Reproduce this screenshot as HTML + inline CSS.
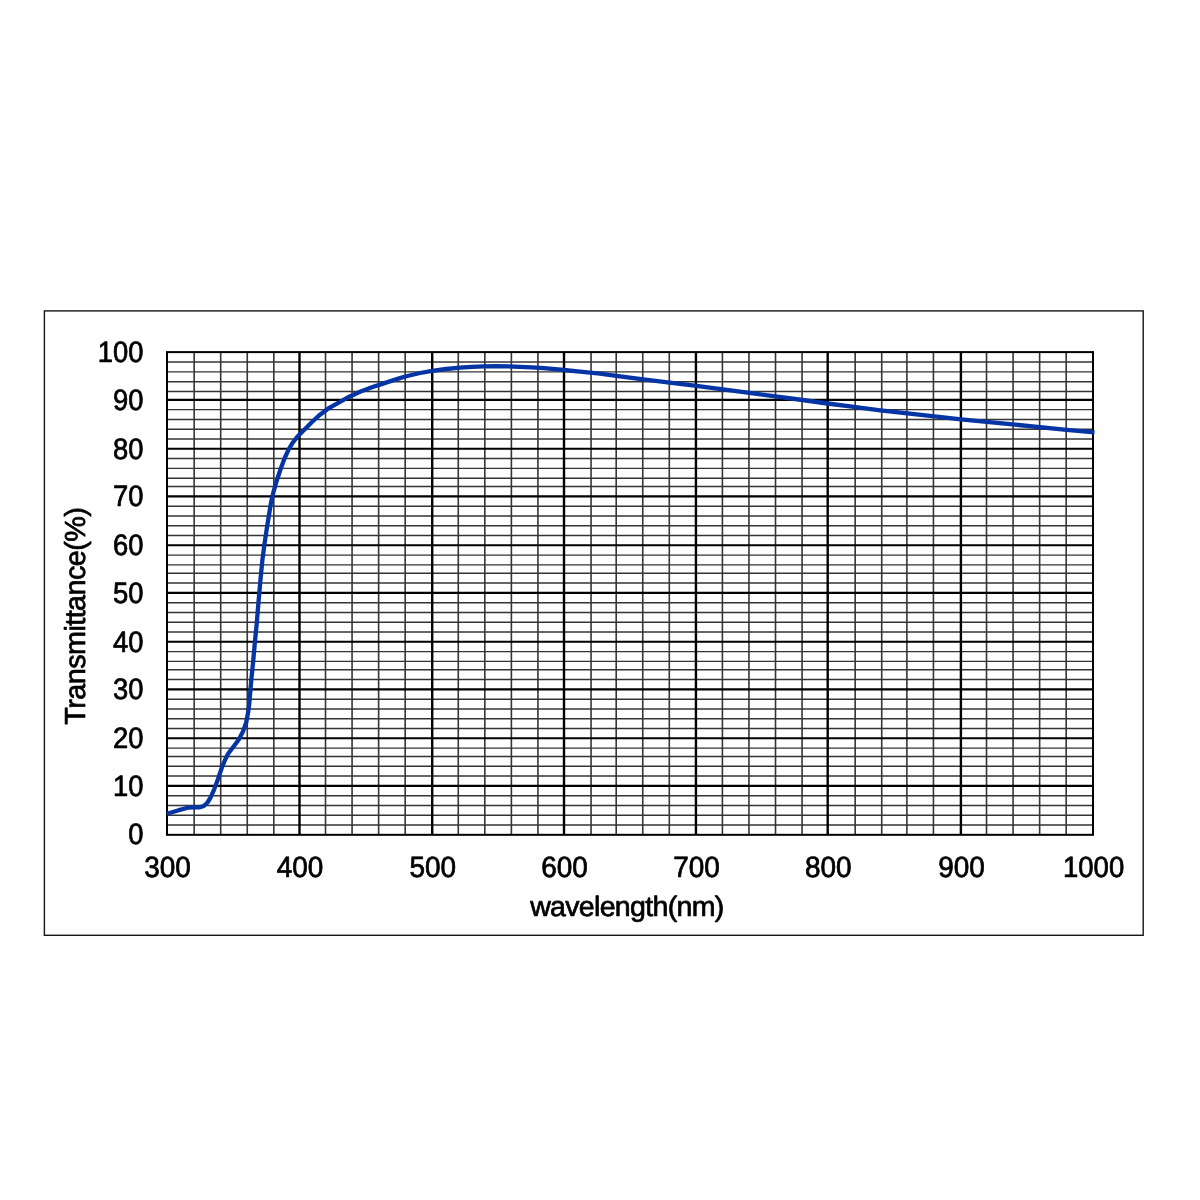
<!DOCTYPE html>
<html><head><meta charset="utf-8"><title>Transmittance</title>
<style>html,body{margin:0;padding:0;background:#fff;}body{width:1200px;height:1200px;overflow:hidden;}svg{display:block;}text{font-family:"Liberation Sans",sans-serif;fill:#000;}</style></head><body>
<svg width="1200" height="1200" viewBox="0 0 1200 1200">
<rect x="0" y="0" width="1200" height="1200" fill="#ffffff"/>
<rect x="44.4" y="310.9" width="1098.8" height="624.4" fill="#fefefe" stroke="#161616" stroke-width="1.4"/>
<path d="M194.15,352.30V834.82M220.70,352.30V834.82M247.26,352.30V834.82M273.81,352.30V834.82M325.52,352.30V834.82M352.07,352.30V834.82M378.62,352.30V834.82M405.17,352.30V834.82M458.28,352.30V834.82M484.83,352.30V834.82M511.38,352.30V834.82M537.94,352.30V834.82M591.04,352.30V834.82M616.20,352.30V834.82M642.75,352.30V834.82M669.30,352.30V834.82M722.41,352.30V834.82M748.96,352.30V834.82M775.51,352.30V834.82M802.07,352.30V834.82M855.17,352.30V834.82M881.72,352.30V834.82M906.88,352.30V834.82M933.43,352.30V834.82M986.53,352.30V834.82M1013.09,352.30V834.82M1039.64,352.30V834.82M1066.19,352.30V834.82" stroke="#363636" stroke-width="1.6" fill="none"/>
<path d="M167.00,362.09H1093.00M167.00,371.88H1093.00M167.00,381.67H1093.00M167.00,391.46H1093.00M167.00,409.64H1093.00M167.00,419.43H1093.00M167.00,429.22H1093.00M167.00,439.01H1093.00M167.00,458.59H1093.00M167.00,468.38H1093.00M167.00,478.17H1093.00M167.00,486.57H1093.00M167.00,506.15H1093.00M167.00,515.94H1093.00M167.00,525.73H1093.00M167.00,535.52H1093.00M167.00,555.10H1093.00M167.00,564.89H1093.00M167.00,573.28H1093.00M167.00,583.07H1093.00M167.00,602.65H1093.00M167.00,612.44H1093.00M167.00,622.23H1093.00M167.00,632.02H1093.00M167.00,651.60H1093.00M167.00,661.39H1093.00M167.00,669.78H1093.00M167.00,679.57H1093.00M167.00,699.15H1093.00M167.00,708.94H1093.00M167.00,718.73H1093.00M167.00,728.52H1093.00M167.00,748.10H1093.00M167.00,756.50H1093.00M167.00,766.29H1093.00M167.00,776.08H1093.00M167.00,795.66H1093.00M167.00,805.45H1093.00M167.00,815.24H1093.00M167.00,825.03H1093.00" stroke="#343434" stroke-width="1.45" fill="none"/>
<path d="M299.50,352.30V834.82M432.20,352.30V834.82M564.00,352.30V834.82M695.95,352.30V834.82M827.70,352.30V834.82M960.90,352.30V834.82" stroke="#000" stroke-width="2.4" fill="none"/>
<path d="M167.00,399.85H1093.00M167.00,448.80H1093.00M167.00,496.36H1093.00M167.00,545.31H1093.00M167.00,592.86H1093.00M167.00,641.81H1093.00M167.00,689.36H1093.00M167.00,738.31H1093.00M167.00,785.87H1093.00" stroke="#000" stroke-width="2.05" fill="none"/>
<rect x="167.00" y="352.10" width="926.00" height="482.72" fill="none" stroke="#000" stroke-width="2"/>
<path d="M166.9,813.8 L178.8,810.2 L188.8,807.5 L195.0,807.3 L200.0,807.3 L203.8,806.0 L207.5,802.5 L210.6,797.5 L214.4,788.8 L218.1,778.8 L221.9,767.5 L225.0,760.0 L228.1,753.8 L233.8,746.2 L238.8,739.4 L243.1,731.2 L246.2,722.5 L248.1,712.5 L249.4,702.5 L250.2,692.5 L251.3,680.0 L253.3,660.0 L254.9,642.0 L256.7,624.0 L258.0,608.0 L259.3,593.0 L260.7,577.3 L262.4,560.0 L264.3,545.3 L266.5,530.5 L268.7,516.7 L270.9,503.3 L273.3,492.7 L276.7,480.7 L280.7,468.7 L284.7,458.0 L288.7,449.3 L292.7,442.7 L297.3,436.7 L304.0,430.0 L312.0,422.0 L320.0,414.7 L328.0,408.7 L338.7,402.7 L349.3,396.7 L360.0,391.8 L373.3,386.8 L380.0,384.6 L386.7,382.4 L400.0,378.1 L405.3,376.5 L420.0,373.0 L432.4,370.9 L446.0,369.0 L460.0,367.6 L472.0,366.9 L484.0,366.4 L496.0,366.2 L508.0,366.4 L520.0,366.8 L532.0,367.4 L544.0,368.2 L564.0,370.0 L580.0,371.6 L600.0,373.7 L620.0,376.3 L643.3,379.3 L696.4,385.8 L749.5,392.9 L775.5,396.4 L802.6,400.0 L827.5,403.5 L850.0,406.4 L880.3,410.3 L934.5,416.4 L961.0,419.4 L1012.5,424.4 L1066.7,429.8 L1094.5,432.3" stroke="#0534a4" stroke-width="4.3" fill="none" stroke-linejoin="round" stroke-linecap="butt"/>
<g font-size="28.8" text-rendering="geometricPrecision" stroke="#000" stroke-width="0.72" stroke-linejoin="round">
<text text-anchor="end" transform="translate(143.4,843.72) scale(0.95,1.025)">0</text>
<text text-anchor="end" transform="translate(143.4,795.57) scale(0.95,1.025)">10</text>
<text text-anchor="end" transform="translate(143.4,748.01) scale(0.95,1.025)">20</text>
<text text-anchor="end" transform="translate(143.4,699.06) scale(0.95,1.025)">30</text>
<text text-anchor="end" transform="translate(143.4,651.51) scale(0.95,1.025)">40</text>
<text text-anchor="end" transform="translate(143.4,602.56) scale(0.95,1.025)">50</text>
<text text-anchor="end" transform="translate(143.4,555.01) scale(0.95,1.025)">60</text>
<text text-anchor="end" transform="translate(143.4,506.06) scale(0.95,1.025)">70</text>
<text text-anchor="end" transform="translate(143.4,458.50) scale(0.95,1.025)">80</text>
<text text-anchor="end" transform="translate(143.4,409.55) scale(0.95,1.025)">90</text>
<text text-anchor="end" transform="translate(143.4,362.00) scale(0.95,1.025)">100</text>
<text text-anchor="middle" transform="translate(167.60,877.05) scale(0.97,1.02)">300</text>
<text text-anchor="middle" transform="translate(300.10,877.05) scale(0.97,1.02)">400</text>
<text text-anchor="middle" transform="translate(432.80,877.05) scale(0.97,1.02)">500</text>
<text text-anchor="middle" transform="translate(564.60,877.05) scale(0.97,1.02)">600</text>
<text text-anchor="middle" transform="translate(696.55,877.05) scale(0.97,1.02)">700</text>
<text text-anchor="middle" transform="translate(828.30,877.05) scale(0.97,1.02)">800</text>
<text text-anchor="middle" transform="translate(961.50,877.05) scale(0.97,1.02)">900</text>
<text text-anchor="middle" transform="translate(1093.60,877.05) scale(0.955,1.02)">1000</text>
<text text-anchor="middle" textLength="196" lengthAdjust="spacing" transform="translate(627.2,915.5) scale(0.99,0.975)">wavelength(nm)</text>
<text text-anchor="middle" textLength="217.5" lengthAdjust="spacing" transform="translate(85.45,615.9) rotate(-90) scale(1,1.005)">Transmittance(%)</text>
</g>
</svg></body></html>
